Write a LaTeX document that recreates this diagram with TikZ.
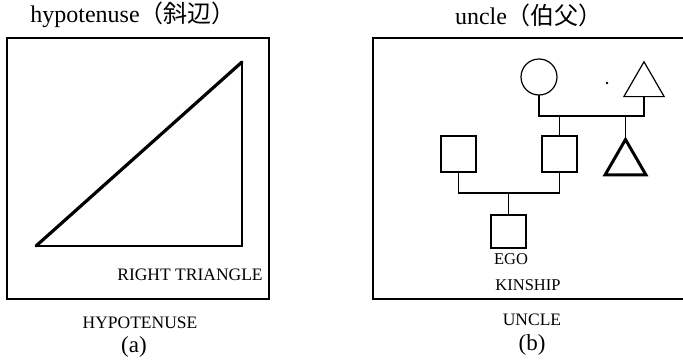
\documentclass[tikz,border=0pt]{standalone}
\usepackage{fontspec}
\setmainfont{Liberation Serif}
\newfontfamily\cjk{Noto Sans CJK JP}
\usetikzlibrary{shapes.geometric}
\tikzset{
  frame/.style={line width=1.4pt},
  thin/.style={line width=1.2pt},
  thickline/.style={line width=3.2pt, line cap=round},
  title/.style={font=\fontsize{24}{26}\selectfont, inner sep=0pt},
  lab/.style={font=\fontsize{17.5}{19}\selectfont, inner sep=0pt},
  sub/.style={font=\fontsize{23}{25}\selectfont, inner sep=0pt},
  sq/.style={draw, line width=1.2pt, minimum width=35pt, minimum height=36pt, inner sep=0pt, outer sep=0pt},
  tri/.style={draw, regular polygon, regular polygon sides=3, minimum size=46.5pt, inner sep=0pt, outer sep=0pt},
  circ/.style={draw, circle, line width=1.2pt, minimum size=36pt, inner sep=0pt, outer sep=0pt},
}
\begin{document}
\begin{tikzpicture}[x=1pt,y=-1pt]
\useasboundingbox (0,0) rectangle (683,362);
\clip (0,0) rectangle (683,362);
% ---------- panel (a) ----------
\node[title] (ta) at (133,15) {hypotenuse\cjk（斜辺）};
\draw[frame] (7,38) rectangle (269,299);
\coordinate (A) at (36,246);
\coordinate (B) at (242,246);
\coordinate (C) at (242,62);
\draw[thin] (A) -- (B) -- (C);
\draw[thickline] (A) -- (C);
\node[lab] (rt) at (190,275) {RIGHT TRIANGLE};
\node[lab] (hy) at (140,323) {HYPOTENUSE};
\node[sub] (la) at (134,347) {(a)};
% ---------- panel (b) ----------
\node[title] (tb) at (529,15) {uncle\cjk（伯父）};
\draw[frame] (373,38) rectangle (690,299);
\node[circ] (mo) at (539,77) {};
\node[tri, line width=1.2pt] (fa) at (644,85) {};
\fill (607,83) circle (1.3);
\node[sq] (fath) at (559.5,154) {};
\node[sq] (moth) at (458.5,154) {};
\node[tri, line width=3pt, minimum size=47pt] (un) at (625.5,163) {};
\node[sq, minimum height=33pt] (ego) at (508.5,231.5) {};
\coordinate (j1) at (0,116);
\coordinate (j2) at (0,193);
\draw[thin] (mo.south) -- (mo.south |- j1) -- (fa.south |- j1) -- (fa.south);
\draw[thin] (fath.north |- j1) -- (fath.north);
\draw[thin] (un.north |- j1) -- (un.north);
\draw[thin] (moth.south) -- (moth.south |- j2) -- (fath.south |- j2) -- (fath.south);
\draw[thin] (ego.north |- j2) -- (ego.north);
\node[lab, font=\fontsize{16.5}{18}\selectfont] (eg) at (511,259) {EGO};
\node[lab, font=\fontsize{16.5}{18}\selectfont] (ki) at (528,285) {KINSHIP};
\node[lab] (un2) at (532,320) {UNCLE};
\node[sub] (lb) at (532,345) {(b)};
\end{tikzpicture}
\end{document}
